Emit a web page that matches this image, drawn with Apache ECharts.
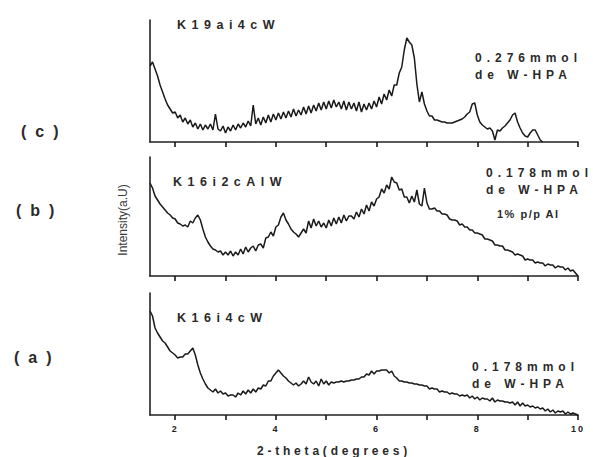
<!DOCTYPE html>
<html><head><meta charset="utf-8">
<script src="https://cdn.jsdelivr.net/npm/echarts@6/dist/echarts.min.js"></script>
<style>html,body{margin:0;padding:0;background:#fff}#c{width:593px;height:457px}</style>
</head><body><div id="c"></div>
<script>
// 2-theta sampling of the scans (degrees)
const thetaStart = 1.5;
const thetaStep = 0.05;
const xMin = 1.5, xMax = 10;
const tickValues = [2, 3, 4, 5, 6, 7, 8, 9, 10];
const tickLabels = [2, 4, 6, 8, 10];

// (c) K19ai4cW, 1.50 .. 9.30
const intensityC = [
 76,80,73,66,57,50,43,37,33,29,
 30,24,27,20,24,18,22,15,19,13,18,12,17,13,18,12,28,13,11,16,
 9,15,11,17,12,18,14,19,15,21,16,37,18,24,17,25,19,27,20,28,
 22,29,23,30,24,31,25,33,26,32,27,35,28,36,29,37,31,39,32,40,
 33,41,34,42,35,40,33,41,32,40,33,39,31,40,30,38,32,39,33,41,
 35,45,38,48,42,52,46,57,57,69,75,92,104,100,97,84,58,40,50,38,
 31,26,26,22,22,21,20,20,19,19,19,20,21,22,23,25,28,30,38,39,
 27,20,17,15,13,14,11,2,12,11,14,16,19,22,27,29,20,14,9,6,
 5,9,12,12,7,2,0
];
// (b) K16i2cAlW, 1.50 .. 10.00
const intensityB = [
 93,88,80,76,72,69,66,63,61,58,
 57,53,52,50,51,49,55,53,58,61,56,47,39,34,30,27,26,24,25,21,
 24,21,25,20,24,21,27,22,29,24,28,30,25,31,32,28,38,39,44,40,
 49,51,59,63,56,52,47,44,42,39,43,47,43,55,48,57,50,55,49,53,
 48,56,50,58,52,59,53,61,55,60,60,57,64,59,67,62,71,65,74,70,
 77,79,87,83,91,87,99,94,93,86,87,79,79,73,80,74,86,72,70,88,
 73,67,67,68,65,65,62,62,61,57,56,56,55,51,52,49,49,46,46,43,
 43,42,41,37,37,36,35,31,31,30,30,26,26,25,24,21,22,21,20,16,
 17,16,16,13,14,13,13,10,12,11,11,8,10,9,9,6,8,5,6,3,
 0
];
// (a) K16i4cW, 1.50 .. 10.00
const intensityA = [
 104,99,87,82,78,74,72,68,64,62,
 60,57,58,58,61,61,64,67,60,50,42,36,31,27,25,23,26,22,24,21,
 22,19,20,20,18,22,20,24,21,25,22,26,23,27,26,30,29,34,34,39,
 42,45,42,39,37,34,32,30,32,29,31,34,31,38,33,31,34,29,36,31,
 34,30,33,32,33,33,34,33,34,34,35,35,36,36,38,38,41,40,44,41,
 44,44,45,45,45,42,44,39,37,34,34,33,33,32,32,31,31,30,30,29,
 29,26,27,26,26,23,24,23,23,21,22,21,21,19,20,19,20,17,19,16,
 18,15,17,16,16,14,17,13,15,14,14,13,13,12,13,10,13,9,12,9,
 10,8,9,7,8,6,7,4,6,3,5,2,4,3,4,1,3,1,2,1,
 0
];

const panelTags = ['(c)', '(b)', '(a)'];
const sampleNames = ['K19ai4cW', 'K16i2cAlW', 'K16i4cW'];
const loadingC = ['0.276mmol', 'de W-HPA'];
const loadingB = ['0.178mmol', 'de W-HPA', '1% p/p Al'];
const loadingA = ['0.178mmol', 'de W-HPA'];
const xName = '2-theta(degrees)';
const yName = 'Intensity(a.U)';

function toPairs(arr) {
  return arr.map((v, i) => [+(thetaStart + i * thetaStep).toFixed(2), v]);
}

const ink = '#222222';
const grids = [
  {left: 150, width: 428, top: 20, height: 122},
  {left: 150, width: 428, top: 157, height: 119},
  {left: 150, width: 428, top: 293, height: 122}
];
const yMax = [122, 119, 122];

const xAxes = grids.map((g, i) => ({
  type: 'value', gridIndex: i, min: xMin, max: xMax,
  axisLine: {show: true, lineStyle: {color: ink, width: 1.6}},
  axisTick: {show: true, customValues: tickValues, length: 5, lineStyle: {color: '#1a1a1a', width: 1.6}},
  axisLabel: {show: i === 2, customValues: tickLabels, margin: 9,
    fontFamily: 'Liberation Sans', fontWeight: 'bold', fontSize: 9, color: ink},
  splitLine: {show: false}
}));
const yAxes = grids.map((g, i) => ({
  type: 'value', gridIndex: i, min: 0, max: yMax[i],
  axisLine: {show: true, lineStyle: {color: ink, width: 1.6}},
  axisTick: {show: false}, axisLabel: {show: false}, splitLine: {show: false}
}));
const dataSets = [intensityC, intensityB, intensityA];
const series = dataSets.map((d, i) => ({
  type: 'line', xAxisIndex: i, yAxisIndex: i, data: toPairs(d),
  showSymbol: false, symbol: 'none', lineStyle: {color: '#1a1a1a', width: 1.5},
  silent: true
}));

function txt(text, x, y, size, opts) {
  return {
    type: 'text', x: x, y: y, silent: true,
    style: Object.assign({text: text, fontFamily: 'Liberation Sans', fontWeight: 'bold',
      fontSize: size, fill: '#2a2a2a', textAlign: 'left', textVerticalAlign: 'middle'}, opts || {})
  };
}

const graphic = [
  txt(panelTags[0], 21, 131, 16),
  txt(panelTags[1], 16, 210, 16),
  txt(panelTags[2], 14, 357, 16),
  txt(sampleNames[0], 177, 25, 12.5),
  txt(sampleNames[1], 173, 182, 12.5),
  txt(sampleNames[2], 177, 318, 12.5),
  txt(loadingC[0], 475, 58, 12),
  txt(loadingC[1], 475, 75, 12),
  txt(loadingB[0], 486, 173, 12),
  txt(loadingB[1], 486, 190, 12),
  txt(loadingB[2], 497, 214, 11),
  txt(loadingA[0], 472, 367, 12),
  txt(loadingA[1], 472, 384, 12),
  txt(xName, 334, 451, 12, {textAlign: 'center'}),
  {type: 'text', x: 123, y: 220, rotation: Math.PI / 2, silent: true,
   style: {text: yName, fontFamily: 'Liberation Sans', fontSize: 12, fill: '#3a3a3a',
     textAlign: 'center', textVerticalAlign: 'middle'}}
];

const spacing = {};
panelTags.forEach(t => spacing[t] = 9);
sampleNames.forEach(t => spacing[t] = 5.5);
[loadingC[0], loadingC[1], loadingB[0], loadingB[1], loadingA[0]].forEach(t => spacing[t] = 5);
spacing[loadingB[2]] = 1.5;
spacing[xName] = 3.8;
tickLabels.forEach(t => spacing[String(t)] = 2);

const chart = echarts.init(document.getElementById('c'), null, {renderer: 'svg'});
chart.setOption({
  animation: false, backgroundColor: '#ffffff',
  grid: grids, xAxis: xAxes, yAxis: yAxes, series: series, graphic: graphic
});
function applySpacing() {
  document.querySelectorAll('#c svg text').forEach(t => {
    const s = spacing[t.textContent];
    if (s != null) t.style.letterSpacing = s + 'px';
  });
}
applySpacing();
chart.on('finished', applySpacing);
</script></body></html>
